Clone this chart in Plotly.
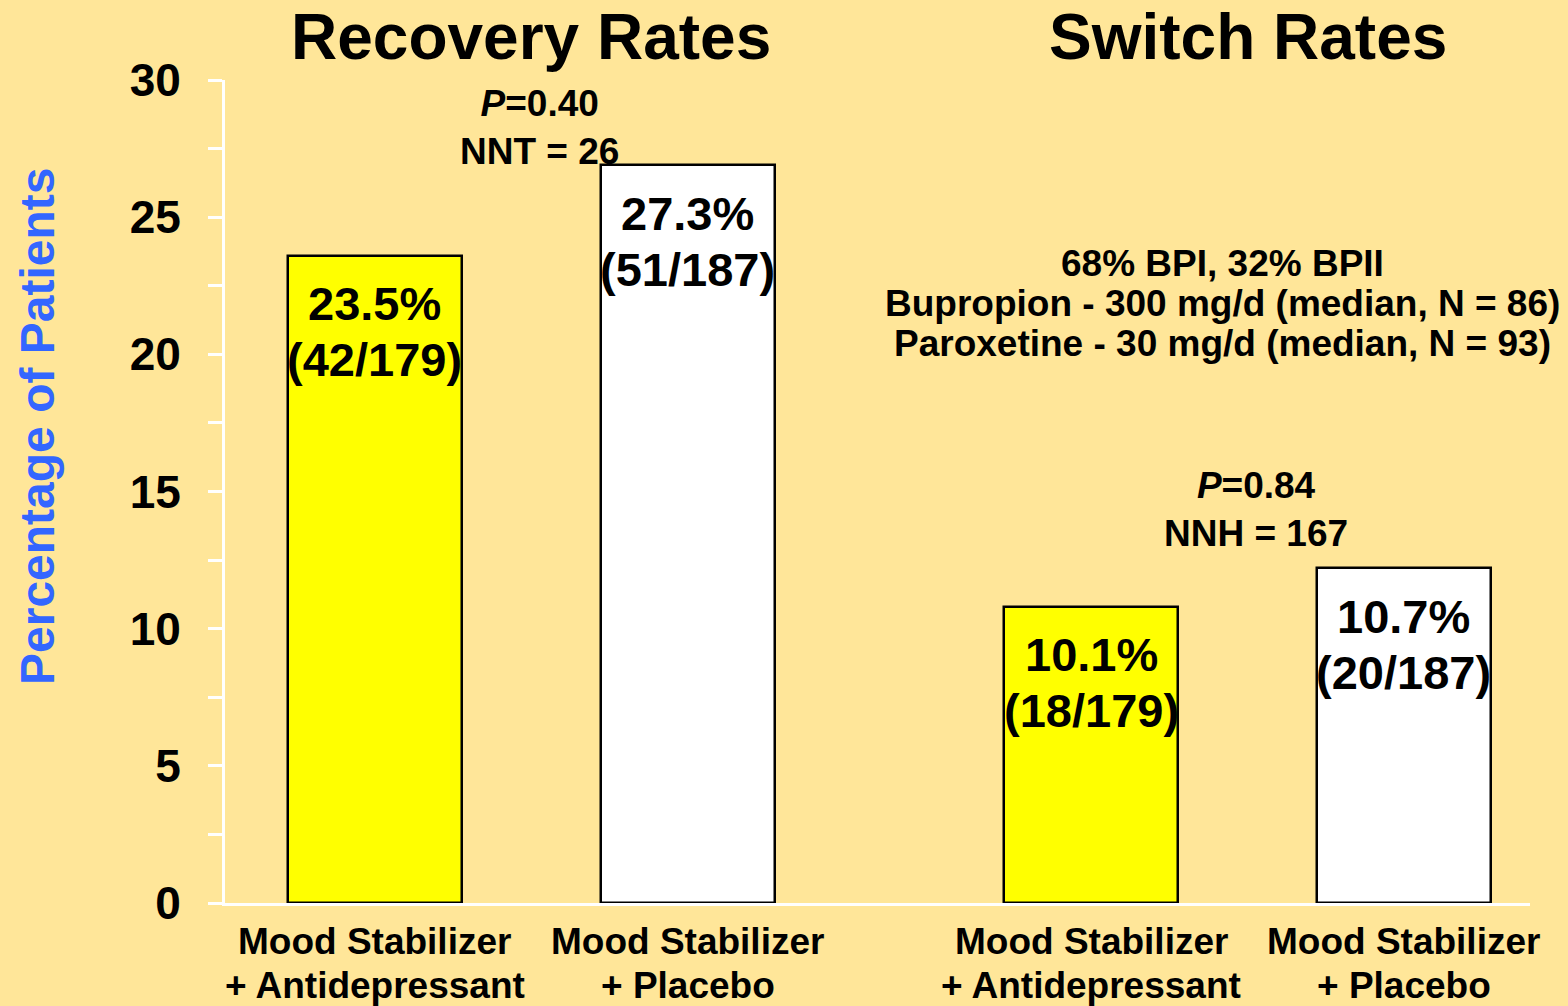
import plotly.graph_objects as go

# ---- data ----
groups = ["Recovery Rates", "Switch Rates"]
category_lines = [["Mood Stabilizer", "+ Antidepressant"], ["Mood Stabilizer", "+ Placebo"],
                  ["Mood Stabilizer", "+ Antidepressant"], ["Mood Stabilizer", "+ Placebo"]]
group_of_bar = [0, 0, 1, 1]
bar_heights = [23.6, 26.9, 10.8, 12.2]        # as drawn in the picture
bar_pct_labels = ["23.5%", "27.3%", "10.1%", "10.7%"]
bar_count_labels = ["(42/179)", "(51/187)", "(18/179)", "(20/187)"]
bar_colors = ["#FFFF00", "#FFFFFF", "#FFFF00", "#FFFFFF"]
stat_texts = ["<i>P</i>=0.40<br>NNT = 26", "<i>P</i>=0.84<br>NNH = 167"]
stat_y = [28.27, 14.36]
info_lines = ["68% BPI, 32% BPII",
              "Bupropion - 300 mg/d (median, N = 86)",
              "Paroxetine - 30 mg/d (median, N = 93)"]
info_y = 21.87
y_ticks = [0, 5, 10, 15, 20, 25, 30]

# ---- layout helpers ----
GROUP_GAP = 0.29
x_pos = [i + 1 + g * GROUP_GAP for i, g in enumerate(group_of_bar)]
group_centers = [sum(x for x, g in zip(x_pos, group_of_bar) if g == k) / 2 for k in range(2)]

BG = "#FFE699"
FONT = "Liberation Sans, Arial, sans-serif"
W, H = 1568, 1006
L, R, T, B = 225, 38, 80, 103

fig = go.Figure()
fig.add_trace(go.Bar(
    x=x_pos, y=bar_heights, width=0.556,
    marker=dict(color=bar_colors, line=dict(color="black", width=2.5)),
    hoverinfo="skip", showlegend=False,
))

annotations = []
for x, h, p, c in zip(x_pos, bar_heights, bar_pct_labels, bar_count_labels):
    for k, line in enumerate([p, c]):
        annotations.append(dict(
            x=x, y=h, xref="x", yref="y", yanchor="middle", yshift=-48 - 56 * k,
            text=line, showarrow=False,
            font=dict(family=FONT, size=47, color="black", weight="bold"),
        ))
for x, lines in zip(x_pos, category_lines):
    for k, line in enumerate(lines):
        annotations.append(dict(
            x=x, y=0, xref="x", yref="paper", yanchor="middle", yshift=-38 - 44 * k,
            text=line, showarrow=False,
            font=dict(family=FONT, size=37, color="black", weight="bold"),
        ))
for gc, name in zip(group_centers, groups):
    annotations.append(dict(
        x=gc, y=1.0, xref="x", yref="paper", yanchor="bottom", yshift=5,
        text=name, showarrow=False,
        font=dict(family=FONT, size=64, color="black", weight="bold"),
    ))
for gc, txt, yy in zip(group_centers, stat_texts, stat_y):
    annotations.append(dict(
        x=gc, y=yy, xref="x", yref="y", xshift=8,
        text=txt, showarrow=False,
        font=dict(family=FONT, size=37, color="black", weight="bold"),
    ))
for k, line in enumerate(info_lines):
    annotations.append(dict(
        x=group_centers[1], y=info_y, xref="x", yref="y", xshift=-25,
        yshift=40 - 40 * k,
        text=line, showarrow=False,
        font=dict(family=FONT, size=37, color="black", weight="bold"),
    ))
annotations.append(dict(
    x=(37 - L) / (W - L - R), y=(H - B - 426) / (H - T - B),
    xref="paper", yref="paper", xanchor="center", yanchor="middle",
    showarrow=False, text="Percentage of Patients", textangle=-90,
    font=dict(family=FONT, size=48, color="#3366FF", weight="bold"),
))

fig.update_layout(
    width=W, height=H,
    margin=dict(l=L, r=R, t=T, b=B, pad=0, autoexpand=False),
    paper_bgcolor=BG, plot_bgcolor=BG,
    annotations=annotations,
    bargap=0,
    xaxis=dict(
        range=[0.521, 4.693], showticklabels=False, automargin=False,
        showgrid=False, zeroline=False, showline=True, linecolor="white", linewidth=3,
        ticks="",
    ),
    yaxis=dict(
        range=[0, 30], tickvals=y_ticks, showgrid=False, zeroline=False, automargin=False,
        showline=True, linecolor="white", linewidth=3,
        ticks="outside", ticklen=14, tickwidth=3, tickcolor="white",
        minor=dict(dtick=2.5, ticks="outside", ticklen=14, tickwidth=3, tickcolor="white"),
        ticklabelstandoff=18,
        tickfont=dict(family=FONT, size=46, color="black", weight="bold"),
    ),
)

fig.write_html(
    "out.html",
    config={"displayModeBar": False},
    post_script="document.body.style.margin='0';document.body.style.background='#FFE699';"
                "document.body.style.overflow='hidden';",
)
